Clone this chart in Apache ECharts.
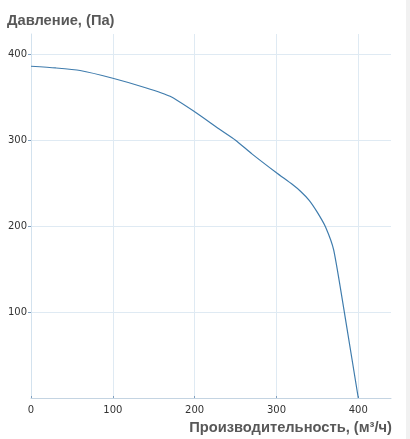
<!DOCTYPE html>
<html>
<head>
<meta charset="utf-8">
<script src="https://cdn.jsdelivr.net/npm/echarts@6/dist/echarts.min.js"></script>
<style>html,body{margin:0;padding:0;background:#fff}#c{width:410px;height:439px}</style>
</head>
<body>
<div id="c"></div>
<script>
var flow = [0, 30, 60, 100, 140, 170, 200, 230, 250, 270, 300, 320, 330, 340, 350, 360, 370, 385, 400];
var pressure = [386, 384, 381, 372, 361, 351, 333, 313, 300, 284, 262, 248, 240, 230, 216, 199, 172, 88, 0];
var xTicks = [0, 100, 200, 300, 400];
var yTicks = [100, 200, 300, 400];
var yTitle = 'Давление, (Па)';
var xTitle = 'Производительность, (м³/ч)';

var chart = echarts.init(document.getElementById('c'), null, {renderer: 'canvas'});
var pts = flow.map(function (f, i) { return [f, pressure[i]]; });
chart.setOption({
  animation: false,
  grid: {left: 31, right: 19, top: 34, bottom: 41, containLabel: false},
  xAxis: {
    type: 'value', min: 0, max: 440, interval: 100,
    axisLine: {show: true, lineStyle: {color: '#c4d4e2', width: 1}},
    axisTick: {show: true, inside: true, length: 2, customValues: xTicks, lineStyle: {color: '#7f9fbf'}},
    axisLabel: {customValues: xTicks, color: '#333', fontFamily: 'DejaVu Sans', fontSize: 10, margin: 7},
    splitLine: {show: true, lineStyle: {color: '#dfeaf3', width: 1}}
  },
  yAxis: {
    type: 'value', min: 0, max: 423.5, interval: 100,
    axisLine: {show: true, lineStyle: {color: '#d3e2ee', width: 1}},
    axisTick: {show: true, length: 3, customValues: yTicks, lineStyle: {color: '#7f9fbf'}},
    axisLabel: {customValues: yTicks, color: '#333', fontFamily: 'DejaVu Sans', fontSize: 10, margin: 4},
    splitLine: {show: true, lineStyle: {color: '#dfeaf3', width: 1}}
  },
  series: [{
    type: 'line', data: pts, showSymbol: false, smooth: 0.2,
    lineStyle: {color: '#3f7cad', width: 1.2}
  }],
  graphic: [
    {type: 'text', left: 7, top: 13, style: {text: yTitle, font: 'bold 14.7px "Liberation Sans", Arial, sans-serif', fill: '#585858'}},
    {type: 'text', right: 18, top: 420, style: {text: xTitle, font: 'bold 14.7px "Liberation Sans", Arial, sans-serif', fill: '#585858'}},
    {type: 'rect', shape: {x: 406, y: 0, width: 4, height: 439}, style: {fill: '#f1f1f1'}}
  ]
});
</script>
</body>
</html>
